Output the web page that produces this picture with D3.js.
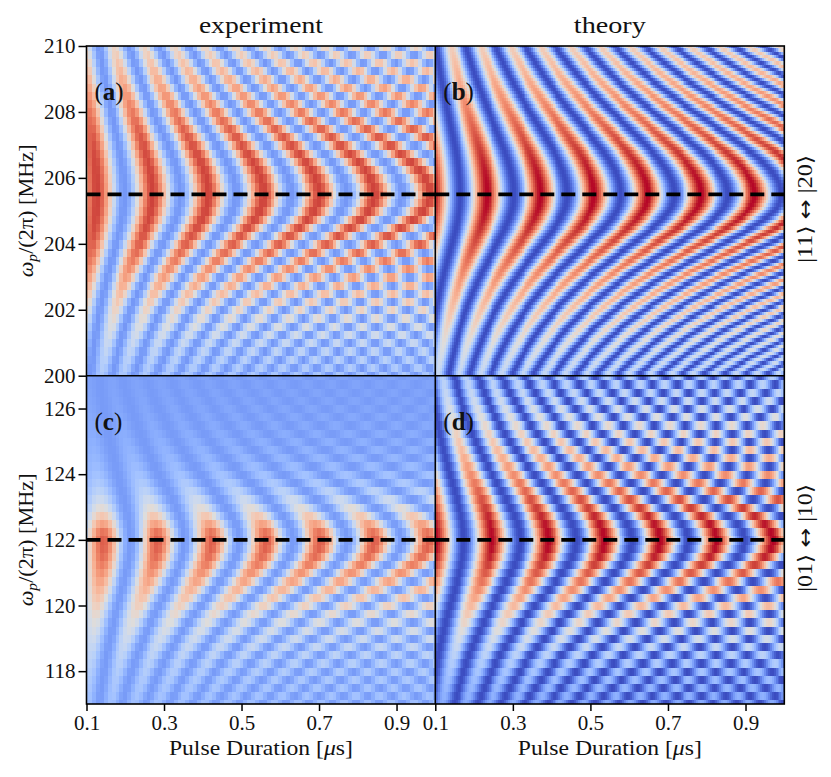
<!DOCTYPE html>
<html>
<head>
<meta charset="utf-8">
<script src="https://cdn.jsdelivr.net/npm/d3@7"></script>
<style>
  body { margin: 0; background: #fff; }
  text { font-family: "Liberation Serif", "DejaVu Serif", serif; fill: #111; }
</style>
</head>
<body>
<div id="container"></div>
<script>
// axes
var durRange = [0.1, 1.0];
var durTicks = [0.1, 0.3, 0.5, 0.7, 0.9];
var topFreqRange = [200, 210];
var topFreqTicks = [200, 202, 204, 206, 208, 210];
var botFreqRange = [117, 127];
var botFreqTicks = [118, 120, 122, 124, 126];

// panels a, b, c, d
var panelIds = ['a', 'b', 'c', 'd'];
var resonanceMHz = [205.5, 205.5, 122.0, 122.0];
var rabiMHz = [6.97, 7.24, 7.14, 6.9];          // fringe rate on resonance
var firstPeakUs = [0.127, 0.095, 0.143, 0.101];  // first red fringe on the dashed line
var fringeScaleAbove = [2.4, 2.4, 3.0, 3.0];     // fringe rate growth per MHz detuning
var fringeScaleBelow = [3.0, 3.1, 3.0, 3.0];
var contrastAbove = [4.6, 5.4, 0.95, 3.8];       // MHz where fringe contrast halves
var contrastBelow = [3.6, 4.6, 2.3, 2.8];
var contrastPower = [3, 2, 2, 2];
var floorLevel = [0.18, 0.0, 0.19, 0.0];
var peakLevel = [0.93, 1.0, 0.88, 1.0];
var stepUs = [0.01, 0.005, 0.01, 0.005];
var stepMHz = [0.25, 0.1, 0.25, 0.25];

var resonanceNames = [['|11\u27E9', '|20\u27E9'], ['|01\u27E9', '|10\u27E9']];

// matplotlib coolwarm
var cwStops = [0, 0.0625, 0.125, 0.1875, 0.25, 0.3125, 0.375, 0.4375, 0.5,
               0.5625, 0.625, 0.6875, 0.75, 0.8125, 0.875, 0.9375, 1];
var cwColors = ['#3b4cc0', '#4d68d7', '#6282ea', '#779af7', '#8db0fe', '#a3c2ff',
                '#b8d0f9', '#ccd9ee', '#dddddd', '#ecd3c5', '#f5c4ad', '#f7b194',
                '#f49a7b', '#ec7f63', '#de604d', '#cb3e38', '#b40426'];

var W = 831, H = 777;
var plotLeft = 86.5, plotMid = 435.3, plotRight = 784.3;
var plotTop = 46, plotVmid = 375.7, plotBottom = 704;

var svg = d3.select('#container').append('svg')
    .attr('width', W)
    .attr('height', H);

var color = d3.scaleLinear().domain(cwStops).range(cwColors).clamp(true);

var xLeft = d3.scaleLinear().domain(durRange).range([plotLeft, plotMid]);
var xRight = d3.scaleLinear().domain(durRange).range([plotMid, plotRight]);
var yTop = d3.scaleLinear().domain(topFreqRange).range([plotVmid, plotTop]);
var yBot = d3.scaleLinear().domain(botFreqRange).range([plotBottom, plotVmid]);

var panelX = [xLeft, xRight, xLeft, xRight];
var panelY = [yTop, yTop, yBot, yBot];
var panelFreq = [topFreqRange, topFreqRange, botFreqRange, botFreqRange];

function signal(p, t, nu) {
    var d = nu - resonanceMHz[p];
    var above = d >= 0;
    var fr = rabiMHz[p];
    var k = above ? fringeScaleAbove[p] : fringeScaleBelow[p];
    var fe = Math.sqrt(fr * fr + (k * d) * (k * d));
    var w = above ? contrastAbove[p] : contrastBelow[p];
    var amp = 1 / (1 + Math.pow(Math.abs(d) / w, contrastPower[p]));
    var t0 = firstPeakUs[p] - 0.5 / fr;
    var s = Math.sin(Math.PI * fe * (t - t0));
    return floorLevel[p] + (peakLevel[p] - floorLevel[p]) * amp * s * s;
}

var defs = svg.append('defs');

panelIds.forEach(function (id, p) {
    var x = panelX[p], y = panelY[p];
    var x0 = x.range()[0], x1 = x.range()[1];
    var y0 = y.range()[1], y1 = y.range()[0];

    defs.append('clipPath').attr('id', 'clip-' + id)
        .append('rect')
        .attr('x', x0).attr('y', y0)
        .attr('width', x1 - x0).attr('height', y1 - y0);

    var dt = stepUs[p], df = stepMHz[p];
    var times = d3.range(0, Math.round((durRange[1] - durRange[0]) / dt) + 1)
        .map(function (i) { return durRange[0] + i * dt; });
    var fr = panelFreq[p];
    var freqs = d3.range(0, Math.round((fr[1] - fr[0]) / df) + 1)
        .map(function (i) { return fr[0] + i * df; });

    var cells = [];
    freqs.forEach(function (nu) {
        times.forEach(function (t) {
            cells.push({t: t, nu: nu, v: signal(p, t, nu)});
        });
    });

    var cw = x(dt) - x(0);
    var ch = y(0) - y(df);

    svg.append('g')
        .attr('clip-path', 'url(#clip-' + id + ')')
        .attr('shape-rendering', 'crispEdges')
        .selectAll('rect')
        .data(cells)
        .enter().append('rect')
        .attr('x', function (d) { return x(d.t) - cw / 2; })
        .attr('y', function (d) { return y(d.nu) - ch / 2; })
        .attr('width', cw + 0.6)
        .attr('height', ch + 0.6)
        .attr('fill', function (d) { return color(d.v); });

    // resonance line
    svg.append('line')
        .attr('x1', x0).attr('x2', x1)
        .attr('y1', y(resonanceMHz[p])).attr('y2', y(resonanceMHz[p]))
        .attr('stroke', '#000')
        .attr('stroke-width', 3.6)
        .attr('stroke-dasharray', '14,7');

    // panel letter
    var lab = svg.append('text')
        .attr('x', x0 + 8)
        .attr('y', y0 + 54)
        .attr('font-size', 25);
    lab.append('tspan').text('(');
    lab.append('tspan').attr('font-weight', 'bold').text(id);
    lab.append('tspan').text(')');
});

// frame and panel borders
var frame = svg.append('g').attr('fill', 'none').attr('stroke', '#000');
frame.append('rect')
    .attr('x', plotLeft).attr('y', plotTop)
    .attr('width', plotRight - plotLeft).attr('height', plotBottom - plotTop)
    .attr('stroke-width', 1.6);
frame.append('line')
    .attr('x1', plotMid).attr('x2', plotMid).attr('y1', plotTop).attr('y2', plotBottom)
    .attr('stroke-width', 1.6);
frame.append('line')
    .attr('x1', plotLeft).attr('x2', plotRight).attr('y1', plotVmid).attr('y2', plotVmid)
    .attr('stroke-width', 1.6);

// axes
function styleAxis(g) {
    g.select('.domain').remove();
    g.selectAll('.tick line').attr('stroke', '#000').attr('stroke-width', 1.5);
    g.selectAll('.tick text')
        .attr('font-size', 21)
        .attr('font-family', '"Liberation Serif", serif')
        .attr('fill', '#111');
}

svg.append('g')
    .attr('transform', 'translate(' + plotLeft + ',0)')
    .call(d3.axisLeft(yTop).tickValues(topFreqTicks).tickSize(8).tickPadding(3)
        .tickFormat(d3.format('d')))
    .call(styleAxis);

svg.append('g')
    .attr('transform', 'translate(' + plotLeft + ',0)')
    .call(d3.axisLeft(yBot).tickValues(botFreqTicks).tickSize(8).tickPadding(3)
        .tickFormat(d3.format('d')))
    .call(styleAxis);

[xLeft, xRight].forEach(function (x) {
    svg.append('g')
        .attr('transform', 'translate(0,' + plotBottom + ')')
        .call(d3.axisBottom(x).tickValues(durTicks).tickSize(7).tickPadding(4)
            .tickFormat(d3.format('.1f')))
        .call(styleAxis);
});

// column titles
svg.append('text')
    .attr('x', (plotLeft + plotMid) / 2).attr('y', 33)
    .attr('text-anchor', 'middle').attr('font-size', 23)
    .attr('textLength', 124).attr('lengthAdjust', 'spacingAndGlyphs')
    .text('experiment');
svg.append('text')
    .attr('x', (plotMid + plotRight) / 2).attr('y', 33)
    .attr('text-anchor', 'middle').attr('font-size', 23)
    .attr('textLength', 72).attr('lengthAdjust', 'spacingAndGlyphs')
    .text('theory');

// x labels
[xLeft, xRight].forEach(function (x) {
    var r = x.range();
    var t = svg.append('text')
        .attr('x', (r[0] + r[1]) / 2).attr('y', 755)
        .attr('text-anchor', 'middle').attr('font-size', 21)
        .attr('textLength', 184).attr('lengthAdjust', 'spacingAndGlyphs');
    t.append('tspan').text('Pulse Duration [');
    t.append('tspan').attr('font-style', 'italic').text('\u03BC');
    t.append('tspan').text('s]');
});

// y labels
[yTop, yBot].forEach(function (y) {
    var r = y.range();
    var t = svg.append('text')
        .attr('transform', 'translate(33,' + ((r[0] + r[1]) / 2) + ') rotate(-90)')
        .attr('text-anchor', 'middle').attr('font-size', 20)
        .attr('textLength', 133).attr('lengthAdjust', 'spacingAndGlyphs');
    t.append('tspan').attr('font-style', 'italic').text('\u03C9');
    t.append('tspan').attr('font-style', 'italic').attr('font-size', 14).attr('dy', 4).text('p');
    t.append('tspan').attr('dy', -4).text('/(2\u03C0) [MHz]');
});

// transition labels on the right
[yTop, yBot].forEach(function (y, i) {
    var r = y.range();
    var t = svg.append('text')
        .attr('transform', 'translate(812,' + ((r[0] + r[1]) / 2 - 2) + ') rotate(-90)')
        .attr('text-anchor', 'middle').attr('font-size', 20)
        .attr('textLength', 108).attr('lengthAdjust', 'spacingAndGlyphs');
    t.append('tspan').text(resonanceNames[i][0] + ' ');
    t.append('tspan').attr('font-family', '"DejaVu Sans", sans-serif').attr('font-size', 20)
        .text('\u2194');
    t.append('tspan').text(' ' + resonanceNames[i][1]);
});
</script>
</body>
</html>
